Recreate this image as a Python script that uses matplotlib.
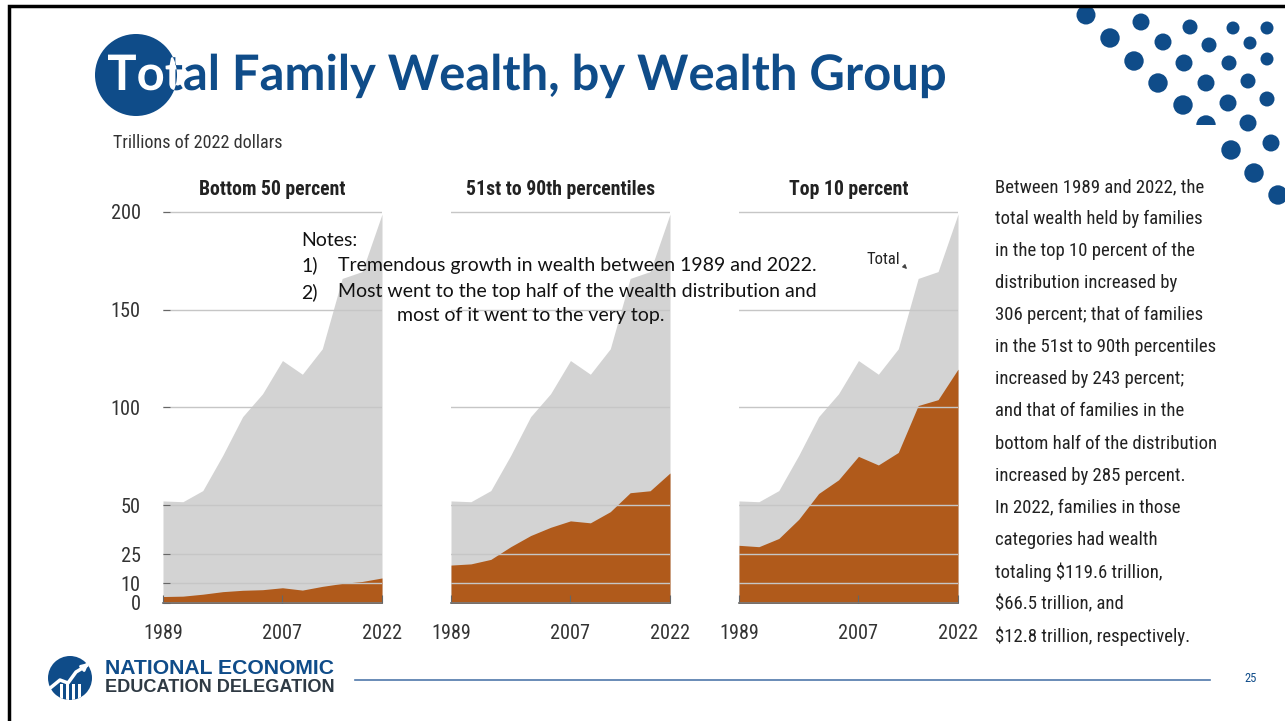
import matplotlib
matplotlib.use("Agg")
import matplotlib.pyplot as plt
from matplotlib import font_manager as fm
from matplotlib.font_manager import FontProperties
from matplotlib.textpath import TextPath
from matplotlib.patches import Circle, Rectangle, PathPatch
from matplotlib.transforms import Affine2D

# values (trillions of 2022 dollars)
years = [1989, 1992, 1995, 1998, 2001, 2004, 2007, 2010, 2013, 2016, 2019, 2022]
total = [52.2, 51.8, 57.5, 75.5, 95.3, 107.0, 124.0, 117.0, 130.0, 166.0, 169.5, 198.9]
bottom50 = [3.3, 3.5, 4.5, 5.8, 6.5, 6.8, 7.8, 6.6, 8.5, 10.0, 11.0, 12.8]
mid40 = [19.4, 20.0, 22.3, 28.8, 34.5, 38.7, 42.0, 41.0, 46.7, 56.4, 57.4, 66.5]
top10 = [29.5, 28.8, 33.0, 42.8, 56.0, 63.0, 75.0, 70.6, 77.0, 101.0, 104.0, 119.6]

panel_titles = ["Bottom 50 percent", "51st to 90th percentiles", "Top 10 percent"]
groups = [bottom50, mid40, top10]
yticks = [0, 10, 25, 50, 100, 150, 200]
xticks = [1989, 2007, 2022]

side_text = ["Between 1989 and 2022, the", "total wealth held by families",
             "in the top 10 percent of the", "distribution increased by",
             "306 percent; that of families", "in the 51st to 90th percentiles",
             "increased by 243 percent;", "and that of families in the",
             "bottom half of the distribution", "increased by 285 percent.",
             "In 2022, families in those", "categories had wealth",
             "totaling $119.6 trillion,", "$66.5 trillion, and",
             "$12.8 trillion, respectively."]

W, H = 1285, 721
BLUE = "#0f4c89"
GREY = "#d3d3d3"
ORANGE = "#b05a1b"


def pick_narrow():
    names = {f.name for f in fm.fontManager.ttflist}
    for n in ["Liberation Sans Narrow", "Roboto Condensed", "Open Sans Condensed",
              "Noto Sans Condensed", "DejaVu Sans Condensed", "Arial Narrow"]:
        if n in names:
            return dict(family=n)
    for f in fm.fontManager.ttflist:
        if "condensed" in str(f.stretch) and f.name in ("Roboto", "Noto Sans", "Open Sans", "DejaVu Sans"):
            return dict(family=f.name, stretch="condensed")
    return dict(family="Roboto")


NARROW = pick_narrow()


def fprop(size=None, weight="normal", **kw):
    d = dict(NARROW)
    d.update(kw)
    p = FontProperties(weight=weight, **d)
    if size:
        p.set_size(size)
    return p


def fit(text, prop, width_px):
    # font size (pt) that gives the text the wanted width in pixels
    w = TextPath((0, 0), text, size=100, prop=prop).get_extents().width
    return 72.0 * width_px / w


fig = plt.figure(figsize=(W / 100, H / 100), dpi=100)


def box(x0, y0, x1, y1):
    return [x0 / W, 1 - y1 / H, (x1 - x0) / W, (y1 - y0) / H]


tick_sz = fit("1989", fprop(), 37)
ttl_sz = fit("Bottom 50 percent", fprop(weight="bold"), 145)

lefts = [163, 451, 739]
for i, (ax_left, grp) in enumerate(zip(lefts, groups)):
    ax = fig.add_axes(box(ax_left, 210, ax_left + 219, 603))
    ax.fill_between(years, total, color=GREY, lw=0)
    ax.fill_between(years, grp, color=ORANGE, lw=0)
    ax.set_xlim(1989, 2022)
    ax.set_ylim(0, 201)
    ax.set_yticks(yticks)
    ax.set_xticks(xticks)
    ax.yaxis.grid(True, color="#c6c6c6", lw=1)
    ax.set_axisbelow(False)
    for s in ["left", "top", "right"]:
        ax.spines[s].set_visible(False)
    ax.spines["bottom"].set_color("#666666")
    ax.spines["bottom"].set_linewidth(1.2)
    ax.tick_params(axis="x", direction="in", length=6, color="#666666",
                   pad=15, labelcolor="#333333")
    if i == 0:
        ax.tick_params(axis="y", direction="in", length=5, color="#666666",
                       pad=16, labelcolor="#333333")
    else:
        ax.tick_params(axis="y", length=0, labelleft=False)
    for lab in ax.get_xticklabels() + ax.get_yticklabels():
        lab.set_fontproperties(fprop(tick_sz))
    ax.set_title(panel_titles[i], fontproperties=fprop(ttl_sz, "bold"),
                 color="#222222", pad=11)

# overlay for slide decoration and text, in pixel units
deco = fig.add_axes([0, 0, 1, 1], zorder=5)
deco.set_xlim(0, W)
deco.set_ylim(H, 0)
deco.axis("off")

deco.plot([9, 9, W], [H, 6, 6], color="black", lw=2.5, solid_joinstyle="miter")

dots = [(1086, 15, 9.5), (1141, 22, 8.5), (1190, 27, 7.5), (1233, 28, 6.5), (1267, 28, 6.5),
        (1110, 38, 9.7), (1163, 42, 8.5), (1209, 45, 7.5), (1250, 43, 6.5),
        (1134, 61, 9.7), (1184, 63, 8.5), (1229, 63, 7.5), (1267, 59, 6.5),
        (1158, 83, 9.7), (1206, 83, 8.5), (1248, 81, 7.5),
        (1183, 105, 9.7), (1228, 103, 8.5), (1267, 99, 7.5),
        (1248, 123, 8.5), (1231, 150, 9.7), (1271, 143, 8.5),
        (1254, 173, 9.7), (1278, 195, 9.7)]
for dx, dy, r in dots:
    deco.add_patch(Circle((dx, dy), r, color=BLUE, lw=0))
half = Circle((1206, 125), 9.7, color=BLUE, lw=0)
deco.add_patch(half)
half.set_clip_path(Rectangle((1190, 100), 40, 25, transform=deco.transData))

# title: text as a path so that the white copy can be clipped to the circle
title = "Total Family Wealth, by Wealth Group"
tprop = FontProperties(family="Lato", weight="bold")
tp = TextPath((0, 0), title, size=100, prop=tprop)
ext = tp.get_extents()
scale = 837.0 / ext.width
tr = Affine2D().translate(-ext.x0, 0).scale(scale, -scale).translate(108, 90) + deco.transData
deco.add_patch(Circle((136, 75), 41, color=BLUE, lw=0))
deco.add_patch(PathPatch(tp, color=BLUE, lw=0, transform=tr))
white = PathPatch(tp, color="white", lw=0, transform=tr)
deco.add_patch(white)
white.set_clip_path(Circle((136, 75), 41, transform=deco.transData))

deco.text(113, 143, "Trillions of 2022 dollars", color="#333333", va="center",
          fontproperties=fprop(fit("Trillions of 2022 dollars", fprop(), 169)))

# notes
nsz = fit("Tremendous growth in wealth between 1989 and 2022.", FontProperties(family="Lato"), 479)
nkw = dict(fontsize=nsz, family="Lato", color="#111111", va="center")
deco.text(301, 240, "Notes:", **nkw)
deco.text(301, 265, "1)", **nkw)
deco.text(338, 265, "Tremendous growth in wealth between 1989 and 2022.", **nkw)
deco.text(301, 292, "2)", **nkw)
deco.text(338, 292, "Most went to the top half of the wealth distribution and", **nkw)
deco.text(397, 316, "most of it went to the very top.", **nkw)

# "Total" label
deco.text(883, 259, "Total", color="#222222", va="center", ha="center",
          fontproperties=fprop(fit("Total", fprop(), 32)))
deco.annotate("", xy=(909, 271), xytext=(903, 265),
              arrowprops=dict(arrowstyle="-|>", lw=0.8, color="#444444",
                              mutation_scale=6))

# side paragraph
ssz = fit("bottom half of the distribution", fprop(), 220)
for k, line in enumerate(side_text):
    deco.text(995, 187 + k * 32.07, line, color="#222222", va="center", ha="left",
              fontproperties=fprop(ssz), parse_math=False)

# footer logo
deco.add_patch(Circle((70, 678), 22, color=BLUE, lw=0))
for bx in [60, 66, 72, 78]:
    bar = Rectangle((bx, 684), 3, 20, color="white", lw=0)
    deco.add_patch(bar)
    bar.set_clip_path(Circle((70, 678), 22, transform=deco.transData))
deco.plot([49, 60, 68, 76, 86], [689, 680, 683, 672, 666], color="white", lw=2.5)
deco.annotate("", xy=(91, 661), xytext=(84, 667),
              arrowprops=dict(arrowstyle="-|>", color="white", lw=2, mutation_scale=10))
lprop = FontProperties(family="Liberation Sans", weight="bold")
deco.text(105, 669, "NATIONAL ECONOMIC", fontsize=fit("NATIONAL ECONOMIC", lprop, 228),
          fontweight="bold", family="Liberation Sans", color=BLUE, va="center")
deco.text(105, 688, "EDUCATION DELEGATION", fontsize=fit("EDUCATION DELEGATION", lprop, 227),
          fontweight="bold", family="Liberation Sans", color="#2f3a44", va="center")
deco.plot([355, 1210], [680, 680], color="#4f78aa", lw=1.2)
deco.text(1251, 679, "25", color=BLUE, va="center", ha="center", fontproperties=fprop(9))

fig.savefig("out.png", dpi=100)
